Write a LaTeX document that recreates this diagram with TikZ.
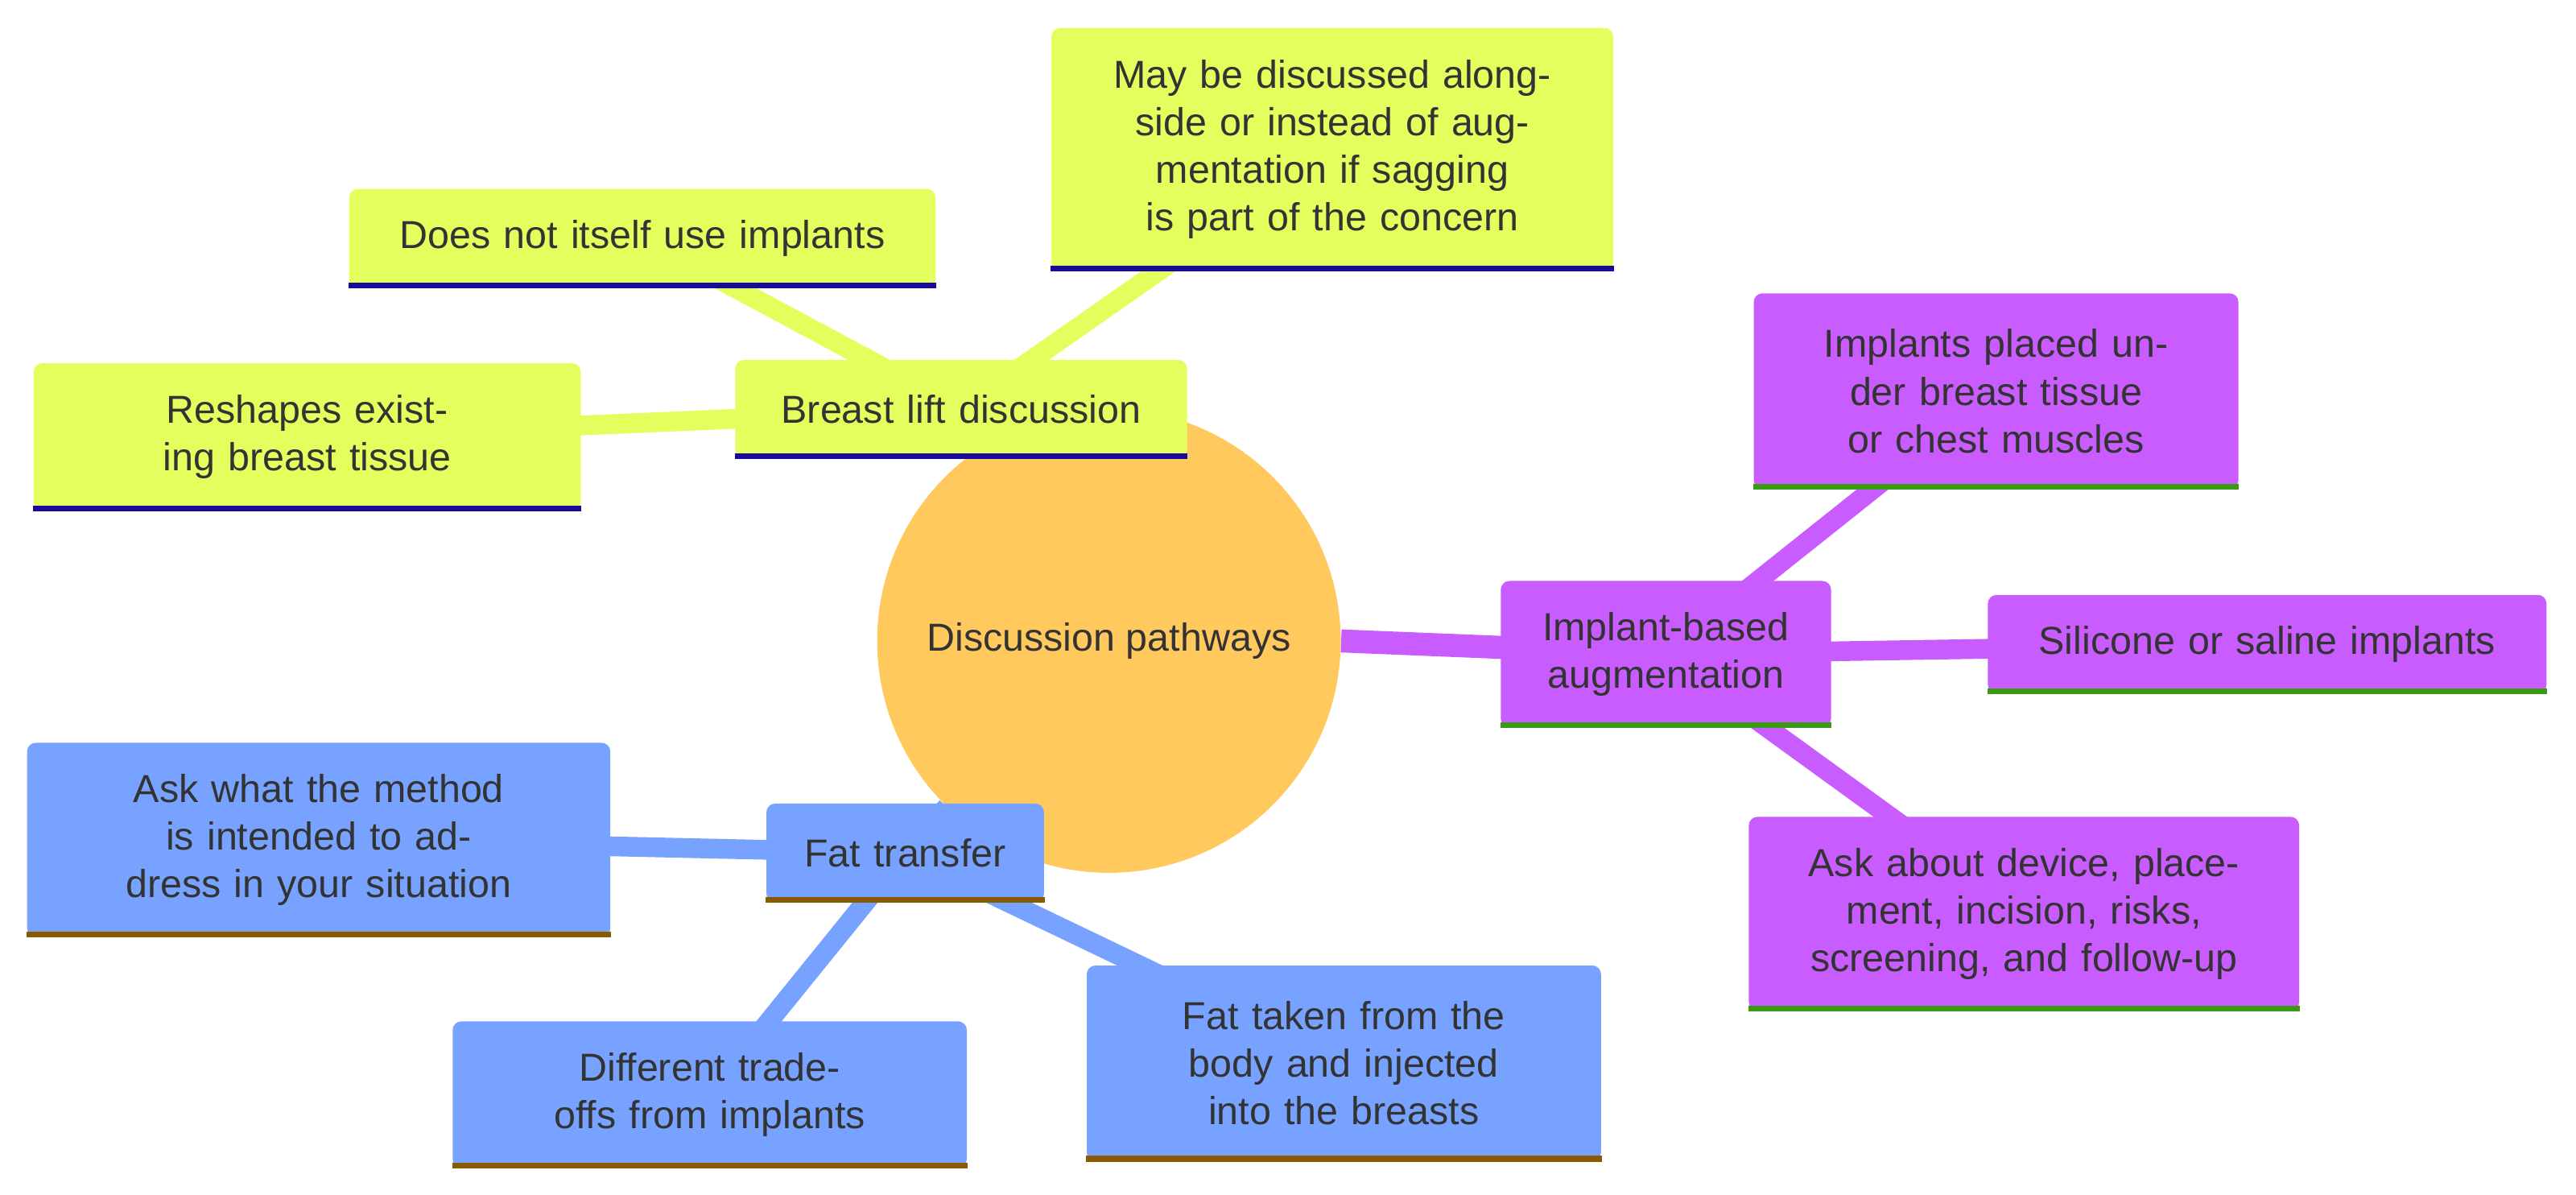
\documentclass[tikz,border=0pt]{standalone}
\usepackage{fontspec}
\setmainfont{Liberation Sans}
\usetikzlibrary{positioning}
\definecolor{rootcol}{HTML}{FFC95E}
\definecolor{liftcol}{HTML}{E3FF5E}
\definecolor{liftline}{HTML}{1A0A9A}
\definecolor{implcol}{HTML}{C95CFF}
\definecolor{implline}{HTML}{3A9A12}
\definecolor{fatcol}{HTML}{78A2FF}
\definecolor{fatline}{HTML}{8A5A00}
\definecolor{txt}{HTML}{333333}
\tikzset{
  box/.style={rectangle, rounded corners=3pt, align=center, text=txt,
    font=\fontsize{13.5}{16.5}\selectfont, inner sep=0pt},
  lift/.style={box, fill=liftcol},
  impl/.style={box, fill=implcol},
  fat/.style={box, fill=fatcol},
  sz/.style 2 args={minimum width=#1*0.02cm, minimum height=#2*0.02cm, text width=#1*0.02cm-0.5cm},
  link/.style={line width=#1*0.02cm, line cap=butt},
}
\newcommand{\uline}[2]{\draw[#2, line width=2pt] ([yshift=1pt]#1.south west) -- ([yshift=1pt]#1.south east);}
\begin{document}
\begin{tikzpicture}[x=0.02cm, y=-0.02cm]
  \useasboundingbox (0,0) rectangle (1568,727);
  % centre
  \node[circle, fill=rootcol, minimum size=282*0.02cm, inner sep=0pt, text=txt,
    font=\fontsize{13.5}{16.5}\selectfont] (root) at (675,390) {Discussion pathways};
  % connectors
  \coordinate (rl) at (585,249);
  \coordinate (ri) at (1014,398);
  \coordinate (rf) at (551,519);
  \begin{scope}[on background layer/.style={}]
  \draw[link=14, fatcol] (root) -- (rf);
  \draw[link=14, implcol] (root.east) -- (ri);
  \end{scope}
  \node[circle, fill=rootcol, minimum size=282*0.02cm, inner sep=0pt, text=txt,
    font=\fontsize{13.5}{16.5}\selectfont] at (675,390) {Discussion pathways};
  \draw[link=12, liftcol] (rl) -- (391,145) (rl) -- (811,91) (rl) -- (187,266);
  \draw[link=12, implcol] (ri) -- (1215,238) (ri) -- (1380,392) (ri) -- (1232,556);
  \draw[link=12, fatcol] (rf) -- (194,511) (rf) -- (432,666) (rf) -- (818,647);
  % breast lift
  \node[lift, sz={275}{60}] (lift) at (rl) {Breast lift discussion};
  \node[lift, sz={357}{60}] (noimp) at (391,145) {Does not itself use implants};
  \node[lift, sz={342}{148}] (along) at (811,91) {May be discussed alongside or instead of augmentation if sagging is part of the concern};
  \node[lift, sz={333}{90}] (reshape) at (187,266) {Reshapes existing breast tissue};
  % implants
  \node[impl, sz={201}{89}] (implant) at (ri) {Implant-based augmentation};
  \node[impl, sz={295}{119}] (placed) at (1215,238) {Implants placed under breast tissue or chest muscles};
  \node[impl, sz={340}{60}] (silicone) at (1380,392) {Silicone or saline implants};
  \node[impl, sz={335}{118}] (device) at (1232,556) {Ask about device, placement, incision, risks, screening, and follow-up};
  % fat transfer
  \node[fat, sz={169}{60}] (fat) at (rf) {Fat transfer};
  \node[fat, sz={355}{118}] (method) at (194,511) {Ask what the method is intended to address in your situation};
  \node[fat, sz={313}{89}] (tradeoff) at (432,666) {Different trade-offs from implants};
  \node[fat, sz={313}{119}] (taken) at (818,647) {Fat taken from the body and injected into the breasts};
  % underlines
  \foreach \n in {lift,noimp,along,reshape} {\uline{\n}{liftline}}
  \foreach \n in {implant,placed,silicone,device} {\uline{\n}{implline}}
  \foreach \n in {fat,method,tradeoff,taken} {\uline{\n}{fatline}}
\end{tikzpicture}
\end{document}
